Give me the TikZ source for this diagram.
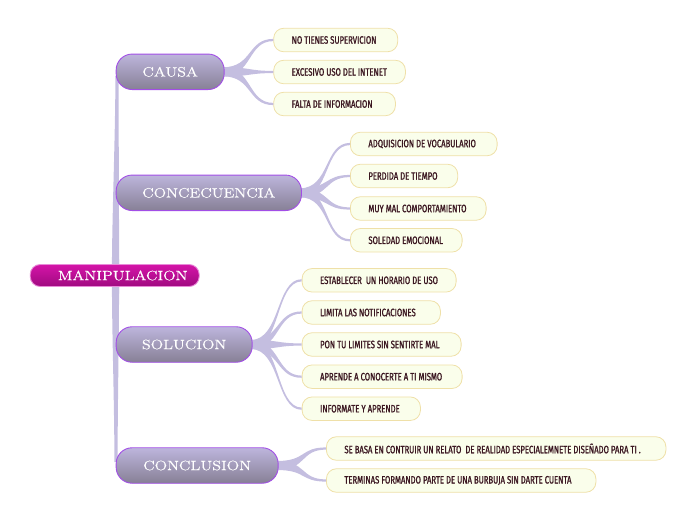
\documentclass[tikz,border=0pt]{standalone}
\usepackage{fontspec}
\usetikzlibrary{calc}
\newfontfamily\leafface[FakeStretch=0.72,FakeBold=1.2]{Fira Sans}
\newfontfamily\mainface[FakeStretch=1.2,FakeBold=0.6]{Latin Modern Roman}
\definecolor{maintop}{HTML}{BDB5DC}
\definecolor{mainbot}{HTML}{878096}
\definecolor{mainborder}{HTML}{A24EE6}
\definecolor{centtop}{HTML}{D414A8}
\definecolor{centbot}{HTML}{A00A80}
\definecolor{centborder}{HTML}{E88AD8}
\definecolor{leaffill}{HTML}{FAFEEB}
\definecolor{leafborder}{HTML}{EFE0A8}
\definecolor{leaftext}{HTML}{3A1620}
\definecolor{linkcol}{HTML}{C4BEE0}
% horizontal tapered link: start, end, half width start, half width end, ctrl offset 1, ctrl offset 2
\newcommand\brlink[6]{%
\fill[linkcol] ($(#1)+(0,#3)$) .. controls ($(#1)+(#5,#3)$) and ($(#2)+(#6,#4)$) .. ($(#2)+(0,#4)$)
 -- ($(#2)+(0,-#4)$) .. controls ($(#2)+(#6,-#4)$) and ($(#1)+(#5,-#3)$) .. ($(#1)+(0,-#3)$) -- cycle;}
% vertical tapered link
\newcommand\trlink[6]{%
\fill[linkcol] ($(#1)+(#3,0)$) .. controls ($(#1)+(#3,#5)$) and ($(#2)+(#4,#6)$) .. ($(#2)+(#4,0)$)
 -- ($(#2)+(-#4,0)$) .. controls ($(#2)+(-#4,#6)$) and ($(#1)+(-#3,#5)$) .. ($(#1)+(-#3,0)$) -- cycle;}
\tikzset{
 mainbox/.style={draw=mainborder, line width=0.9pt, top color=maintop, bottom color=mainbot,
   rounded corners=16pt, minimum height=35.5pt, text=white, inner sep=0pt, anchor=west,
   font=\mainface\fontsize{13.5}{16}\selectfont},
 centbox/.style={draw=centborder, line width=0.9pt, top color=centtop, bottom color=centbot,
   rounded corners=10pt, minimum height=22pt, minimum width=169pt, text=white, inner sep=0pt,
   font=\mainface\fontsize{13.5}{16}\selectfont},
 leafbox/.style={draw=leafborder, line width=0.8pt, fill=leaffill, rounded corners=10pt,
   minimum height=23.5pt, inner xsep=18pt, inner ysep=0pt, text=leaftext, anchor=west,
   font=\leafface\fontsize{10.7}{12}\selectfont},
}
\newcommand\leaf[4]{\node[leafbox] (#1) at (#2) {\makebox[\dimexpr #3pt-36pt\relax][l]{#4}};}
\begin{document}
\begin{tikzpicture}[x=1pt,y=-1pt]
\useasboundingbox (0,0) rectangle (696,520);
% coordinates for trunk
\coordinate (tc) at (115.5,275.5);
\coordinate (t1) at (117,76);
\coordinate (t2) at (117,196);
\coordinate (t3) at (117,340);
\coordinate (t4) at (116,462);
\trlink{tc}{t1}{3.6}{1.6}{-60}{60}
\trlink{tc}{t2}{3.6}{1.6}{-40}{40}
\trlink{tc}{t3}{3.6}{1.6}{20}{-20}
\trlink{tc}{t4}{3.6}{1.6}{60}{-60}
% leaves
\leaf{a1}{273.3,40}{124}{NO TIENES SUPERVICION}
\leaf{a2}{273.3,72}{131.7}{EXCESIVO USO DEL INTENET}
\leaf{a3}{273.3,104}{121.7}{FALTA DE INFORMACION}
\leaf{b1}{350,144}{146.7}{ADQUISICION DE VOCABULARIO}
\leaf{b2}{350,176}{107.3}{PERDIDA DE TIEMPO}
\leaf{b3}{350,208.5}{135.7}{MUY MAL COMPORTAMIENTO}
\leaf{b4}{350,240.3}{111.7}{SOLEDAD EMOCIONAL}
\leaf{c1}{301.7,280.3}{154}{ESTABLECER~ UN HORARIO DE USO}
\leaf{c2}{301.7,312.5}{138.3}{LIMITA LAS NOTIFICACIONES}
\leaf{c3}{301.7,344.5}{159}{PON TU LIMITES SIN SENTIRTE MAL}
\leaf{c4}{301.7,376.7}{160}{APRENDE A CONOCERTE A TI MISMO}
\leaf{c5}{301.7,408.7}{118.3}{INFORMATE Y APRENDE}
\leaf{d1}{326,448.5}{339.5}{SE BASA EN CONTRUIR UN RELATO~ DE REALIDAD ESPECIALEMNETE DISEÑADO PARA TI .}
\leaf{d2}{326,480.5}{269.5}{TERMINAS FORMANDO PARTE DE UNA BURBUJA SIN DARTE CUENTA}
% main nodes (placed first as anchors for the links)
\path (115.7,71.8) coordinate (pcausa) (115.7,192.8) coordinate (pconse)
      (115.7,344.5) coordinate (psolu) (115.7,465.5) coordinate (pconcl);
\coordinate (ecausa) at (222.7,71.8);
\coordinate (econse) at (300,192.8);
\coordinate (esolu) at (250.7,344.5);
\coordinate (econcl) at (276.7,465.5);
\foreach \m/\l in {causa/a1,causa/a2,causa/a3,conse/b1,conse/b2,conse/b3,conse/b4,
  solu/c1,solu/c2,solu/c3,solu/c4,solu/c5,concl/d1,concl/d2}{
  \brlink{e\m}{\l.west}{4.5}{1.1}{30}{-26}
}
\node[mainbox, minimum width=108pt] (causa) at (pcausa) {CAUSA};
\node[mainbox, minimum width=185.3pt] (conse) at (pconse) {CONCECUENCIA};
\node[mainbox, minimum width=136pt] (solu) at (psolu) {SOLUCION};
\node[mainbox, minimum width=162pt] (concl) at (pconcl) {CONCLUSION};
\node[centbox] (cent) at (114.7,275.5) {\hspace*{16pt}MANIPULACION};
\end{tikzpicture}
\end{document}
